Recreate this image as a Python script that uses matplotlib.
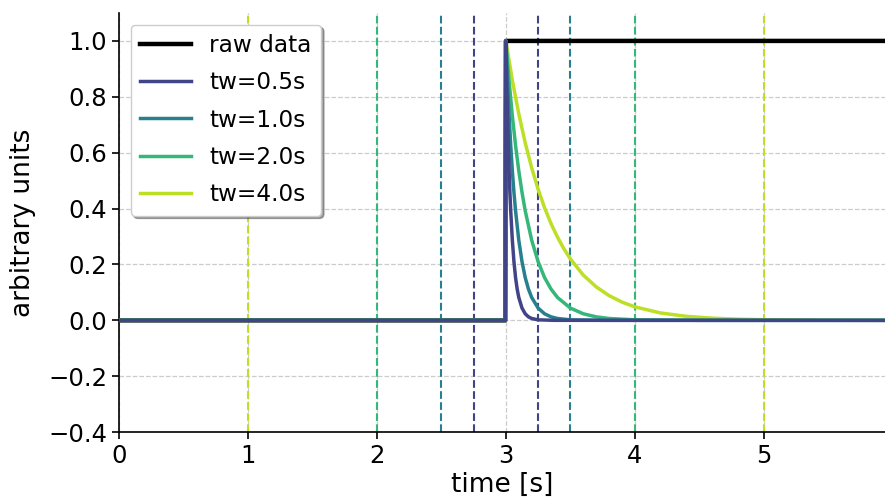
import numpy as np
import matplotlib
matplotlib.use("Agg")
import matplotlib.pyplot as plt

# raw step signal
raw_t = [0.0, 2.995, 3.0, 5.94]
raw_y = [0.0, 0.0, 1.0, 1.0]

# filtered responses (time after the step, value)
windows = [0.5, 1.0, 2.0, 4.0]
labels = ["tw=0.5s", "tw=1.0s", "tw=2.0s", "tw=4.0s"]
decay_t = [
    [0, 0.006, 0.0125, 0.019, 0.025, 0.031, 0.0375, 0.05, 0.0625, 0.075, 0.0875,
     0.10, 0.125, 0.15, 0.175, 0.20, 0.25, 0.375, 2.94],
    [0, 0.0125, 0.025, 0.0375, 0.05, 0.0625, 0.075, 0.10, 0.125, 0.15, 0.175,
     0.20, 0.25, 0.30, 0.35, 0.40, 0.50, 0.75, 2.94],
    [0, 0.025, 0.05, 0.075, 0.10, 0.125, 0.15, 0.20, 0.25, 0.30, 0.35,
     0.40, 0.50, 0.60, 0.70, 0.80, 1.00, 1.50, 2.94],
    [0, 0.05, 0.10, 0.15, 0.20, 0.25, 0.30, 0.35, 0.40, 0.45, 0.50, 0.60, 0.70,
     0.80, 0.90, 1.00, 1.20, 1.40, 1.60, 1.80, 2.00, 2.50, 2.94],
]
decay_y = [
    [1, 0.855, 0.732, 0.626, 0.535, 0.458, 0.392, 0.287, 0.210, 0.153, 0.112,
     0.082, 0.044, 0.0235, 0.0126, 0.0067, 0.0019, 0.0001, 0],
    [1, 0.855, 0.732, 0.626, 0.535, 0.458, 0.392, 0.287, 0.210, 0.153, 0.112,
     0.082, 0.044, 0.0235, 0.0126, 0.0067, 0.0019, 0.0001, 0],
    [1, 0.855, 0.732, 0.626, 0.535, 0.458, 0.392, 0.287, 0.210, 0.153, 0.112,
     0.082, 0.044, 0.0235, 0.0126, 0.0067, 0.0019, 0.0001, 0],
    [1, 0.859, 0.739, 0.635, 0.546, 0.469, 0.403, 0.346, 0.298, 0.256, 0.220,
     0.162, 0.120, 0.0886, 0.0654, 0.0483, 0.0264, 0.0144, 0.0078, 0.0043,
     0.0023, 0.0005, 0],
]
t_step = 3.0

colors = plt.cm.viridis(np.linspace(0.2, 0.9, 4))

fig = plt.figure(figsize=(8.85, 4.99), dpi=100)
ax = fig.add_axes([0.1345, 0.134, 0.8655, 0.84])

ax.plot(raw_t, raw_y, color="black", lw=3.2, label="raw data", zorder=3)
for i in range(4):
    tt = [0.0, t_step - 0.005] + [t_step + d for d in decay_t[i]]
    yy = [0.0, 0.0] + decay_y[i]
    ax.plot(tt, yy, color=colors[i], lw=2.5, label=labels[i], zorder=7 - i)
    for x in (t_step - windows[i] / 2, t_step + windows[i] / 2):
        ax.axvline(x, color=colors[i], ls="--", lw=1.5, zorder=2)

ax.grid(True, ls="--", color="#cccccc", lw=0.9)
ax.set_axisbelow(True)
ax.set_xlim(0, 5.94)
ax.set_ylim(-0.4, 1.1)
ax.set_xticks([0, 1, 2, 3, 4, 5])
ax.set_yticks(np.arange(-0.4, 1.01, 0.2))
ax.tick_params(labelsize=17.5, length=5, width=1.2)
ax.set_xlabel("time [s]", fontsize=19, labelpad=3)
ax.set_ylabel("arbitrary units", fontsize=19, labelpad=9)
ax.spines["top"].set_visible(False)
ax.spines["right"].set_visible(False)
ax.spines["left"].set_linewidth(1.2)
ax.spines["bottom"].set_linewidth(1.2)
ax.legend(loc="upper left", fontsize=16.7, shadow=True, fancybox=True,
          handlelength=2.2, labelspacing=0.62)

fig.savefig("out.png", dpi=100)
